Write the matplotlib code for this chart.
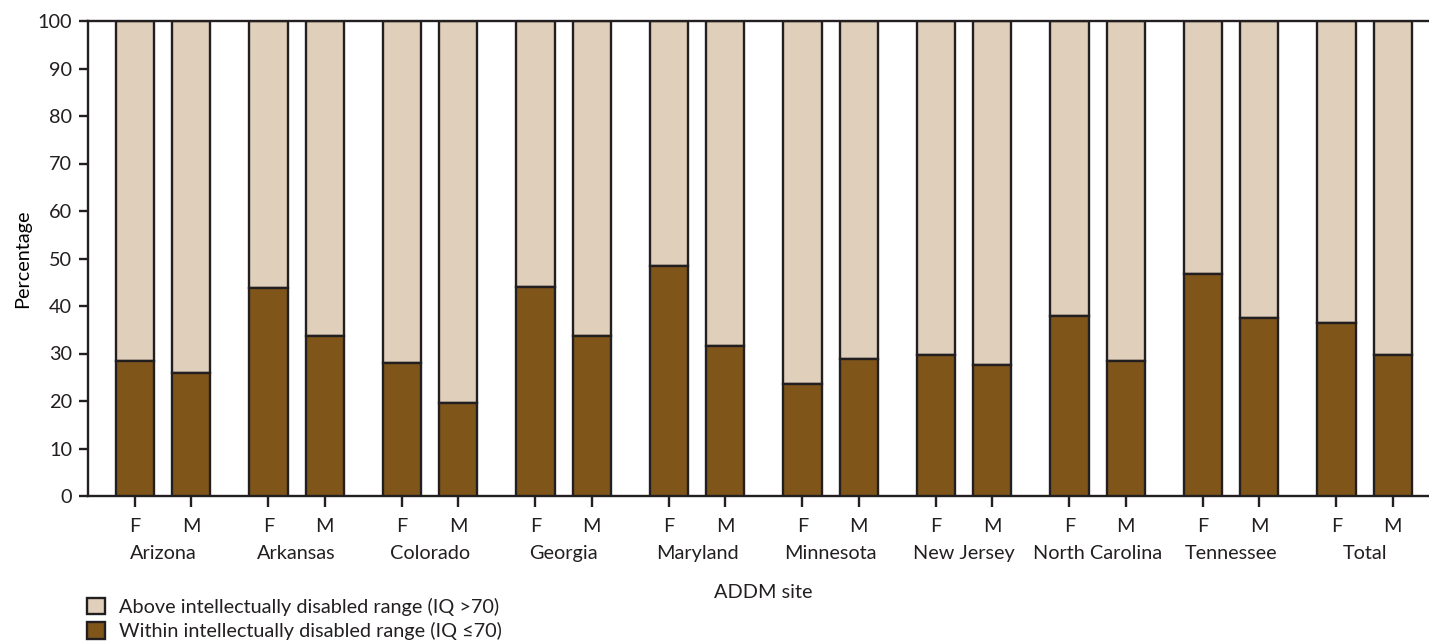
import matplotlib
matplotlib.use("Agg")
import matplotlib.pyplot as plt
from matplotlib.patches import Patch
import matplotlib.ticker as mticker
import numpy as np

sites = ["Arizona", "Arkansas", "Colorado", "Georgia", "Maryland", "Minnesota",
         "New Jersey", "North Carolina", "Tennessee", "Total"]
sexes = ["F", "M"]
within_F = [28.4, 43.7, 28.1, 44.0, 48.4, 23.5, 29.6, 37.8, 46.7, 36.4]
within_M = [26.0, 33.6, 19.5, 33.6, 31.5, 28.9, 27.6, 28.4, 37.4, 29.6]
legend_labels = ["Above intellectually disabled range (IQ >70)",
                 "Within intellectually disabled range (IQ \u226470)"]
yticks = list(range(0, 101, 10))

c_light = "#E0CFBB"
c_dark = "#7F551A"
c_edge = "#231F20"
c_text = "#231F20"

fs = 14.3
plt.rcParams['font.family'] = ['Lato', 'DejaVu Sans']
plt.rcParams['font.size'] = fs
plt.rcParams['text.color'] = c_text

W, H = 1429, 641
fig = plt.figure(figsize=(W / 100, H / 100), dpi=100)
ax = fig.add_axes([88 / W, 1 - 496 / H, 1 - 88 / W, (496 - 21) / H])

n = len(sites)
g = np.arange(n)
off = 0.21
bw = 0.285
xF = g - off
xM = g + off
lw = 1.7

for xs, vals in ((xF, within_F), (xM, within_M)):
    vals = np.array(vals)
    ax.bar(xs, 100 - vals, bottom=vals, width=bw, color=c_light,
           edgecolor=c_edge, linewidth=lw, zorder=2)
    ax.bar(xs, vals, width=bw, color=c_dark, edgecolor=c_edge,
           linewidth=lw, zorder=3)

ax.set_xlim(-0.562, 9.483)
ax.set_ylim(0, 100)

ax.spines['right'].set_visible(False)
for s in ('left', 'bottom', 'top'):
    ax.spines[s].set_linewidth(1.7)
    ax.spines[s].set_color(c_edge)

ax.set_yticks(yticks)
ax.tick_params(axis='y', length=6.5, width=1.7, color=c_edge, pad=5,
               labelsize=fs, labelcolor=c_text)

xpos = np.ravel(np.column_stack([xF, xM]))
ax.set_xticks(xpos)
ax.set_xticklabels(sexes * n)
ax.tick_params(axis='x', which='major', length=8, width=1.7, color=c_edge,
               pad=8, labelsize=fs, labelcolor=c_text)
ax.xaxis.set_minor_locator(mticker.FixedLocator(g))
ax.xaxis.set_minor_formatter(mticker.FixedFormatter(sites))
ax.tick_params(axis='x', which='minor', length=0, pad=35.5, labelsize=fs,
               labelcolor=c_text)

ax.set_ylabel("Percentage", fontsize=fs, va='center')
ax.yaxis.set_label_coords(-0.0485, 0.5)

fig.text(763 / W, 1 - 592 / H, "ADDM site", ha='center', va='center',
         fontsize=fs)

handles = [Patch(facecolor=c_light, edgecolor=c_edge, linewidth=lw),
           Patch(facecolor=c_dark, edgecolor=c_edge, linewidth=lw)]
fig.legend(handles, legend_labels, loc='upper left',
           bbox_to_anchor=(87 / W, 1 - 598 / H), frameon=False,
           borderpad=0, borderaxespad=0, handlelength=0.9, handleheight=0.9,
           handletextpad=0.7, labelspacing=0.3, fontsize=fs)

fig.savefig("out.png", dpi=100)
